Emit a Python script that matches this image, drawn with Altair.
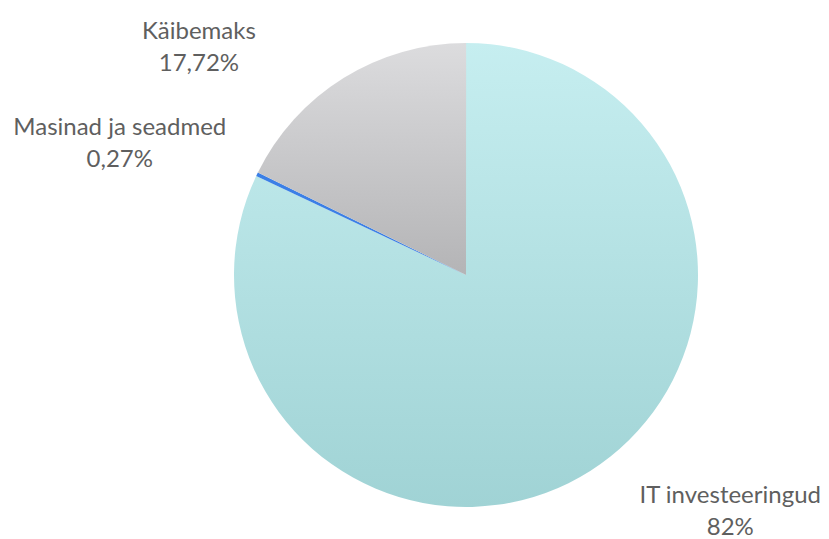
import altair as alt
import pandas as pd

categories = ["IT investeeringud", "Masinad ja seadmed", "Käibemaks"]
values = [82.01, 0.27, 17.72]
value_labels = ["82%", "0,27%", "17,72%"]
order = [0, 1, 2]

df = pd.DataFrame({
    "cat": categories,
    "val": values,
    "lab": [c + "\n" + v for c, v in zip(categories, value_labels)],
    "ord": order,
})

CX, CY, R = 458, 267, 232

grad = {
    "IT investeeringud": {"gradient": "linear", "x1": 0, "y1": 0, "x2": 0, "y2": 1,
                          "stops": [{"offset": 0, "color": "#c6eef0"}, {"offset": 1, "color": "#a0d3d5"}]},
    "Masinad ja seadmed": "#3b7fe6",
    "Käibemaks": {"gradient": "linear", "x1": 0, "y1": 0, "x2": 0, "y2": 1,
                  "stops": [{"offset": 0, "color": "#dcdcde"}, {"offset": 1, "color": "#b4b4b6"}]},
}

base = alt.Chart(df).transform_window(
    end="sum(val)", sort=[alt.SortField("ord")], frame=[None, 0]
).transform_calculate(
    start="datum.end - datum.val", mid="datum.end - datum.val/2"
)

theta_scale = alt.Scale(domain=[0, 99.99], range=[0, 6.283185307])

layers = []
for c in categories:
    layers.append(
        base.transform_filter(alt.datum.cat == c).mark_arc(
            color=grad[c], outerRadius=R, innerRadius=0
        ).encode(
            theta=alt.Theta("start:Q", scale=theta_scale),
            theta2="end:Q",
            x=alt.value(CX), y=alt.value(CY),
        )
    )

offsets = {
    "IT investeeringud": (109, -24),
    "Masinad ja seadmed": (-85, -21),
    "Käibemaks": (-114, 3),
}
for c in categories:
    dx, dy = offsets[c]
    layers.append(
        base.transform_filter(alt.datum.cat == c).mark_text(
            font="Lato", fontSize=24, color="#5f5f5f", lineBreak="\n",
            align="center", baseline="middle", lineHeight=32, dx=dx, dy=dy,
            radius=290,
        ).encode(
            theta=alt.Theta("mid:Q", scale=theta_scale),
            text="lab:N",
            x=alt.value(CX), y=alt.value(CY),
        )
    )

chart = alt.layer(*layers).properties(
    width=813, height=531, autosize=alt.AutoSizeParams(type="none"), padding=0
).configure_view(stroke=None)

chart.save("out.html", embed_options={"renderer": "svg", "actions": False})
